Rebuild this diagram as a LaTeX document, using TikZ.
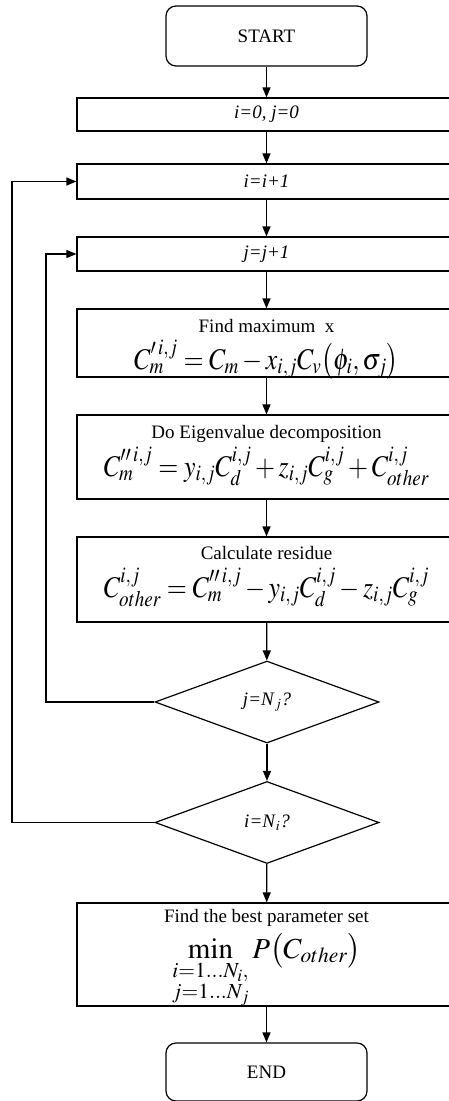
\documentclass[tikz,border=0pt]{standalone}
\usepackage{amsmath}
\usepackage{graphicx}
\usepackage{mathptmx}
\usepackage[no-math]{fontspec}
\setmainfont{Liberation Serif}
\usetikzlibrary{arrows.meta,shapes.geometric}
\newcommand{\sqz}[1]{\scalebox{0.86}[1]{#1}}
\begin{document}
\begin{tikzpicture}[x=1pt,y=-1pt,line width=1.2pt,
  txt/.style={font=\fontsize{19}{22}\selectfont},
  box/.style={draw,rectangle,minimum width=379pt,inner sep=0pt,txt},
  term/.style={draw,rectangle,rounded corners=10pt,minimum width=201pt,minimum height=60pt,inner sep=0pt,txt},
  dec/.style={draw,diamond,aspect=2.7,minimum width=224pt,minimum height=82pt,inner sep=0pt,txt},
  arr/.style={-{Triangle[length=10pt,width=8pt]}},
  lbl/.style={txt,inner sep=0pt,anchor=base},
  eq/.style={font=\fontsize{30}{34}\selectfont,inner sep=0pt,anchor=base}]
\useasboundingbox (0,0) rectangle (448,1101);
\node[term] (start) at (266.5,36) {START};
\node[box,minimum height=33pt] (b1) at (266.5,114.5) {\textit{i=0, j=0}};
\node[box,minimum height=35pt] (b2) at (266.5,181.5) {\textit{i=i+1}};
\node[box,minimum height=34pt] (b3) at (266.5,254) {\textit{j=j+1}};
\node[box,minimum height=68pt] (b4) at (266.5,343) {};
\node[box,minimum height=84pt] (b5) at (266.5,457) {};
\node[box,minimum height=85pt] (b6) at (266.5,579.5) {};
\node[dec] (d1) at (267,702) {\textit{j=N}$_j$\textit{?}};
\node[dec] (d2) at (267,822.5) {\textit{i=N}$_i$\textit{?}};
\node[box,minimum height=103pt] (b7) at (266.5,954.5) {};
\node[term,minimum height=58pt] (end) at (266.5,1072) {END};
% labels
\node[lbl] (t4) at (266.5,332) {Find maximum~ x};
\node[eq] (f4) at (266.5,369) {\sqz{$C'^{\,i,j}_m = C_m - x_{i,j}C_v\bigl(\phi_i,\sigma_j\bigr)$}};
\node[lbl] (t5) at (266.5,438) {Do Eigenvalue decomposition};
\node[eq] (f5) at (266.5,476) {\sqz{$C''^{\,i,j}_m = y_{i,j}C^{i,j}_d + z_{i,j}C^{i,j}_g + C^{i,j}_{other}$}};
\node[lbl] (t6) at (266.5,559) {Calculate residue};
\node[eq] (f6) at (266.5,597) {\sqz{$C^{i,j}_{other} = C''^{\,i,j}_m - y_{i,j}C^{i,j}_d - z_{i,j}C^{i,j}_g$}};
\node[lbl] (t7) at (266.5,922) {Find the best parameter set};
\node[eq,font=\fontsize{29}{33}\selectfont] (f7) at (266.5,958) {$\min\limits_{\substack{i=1\ldots N_i,\\ j=1\ldots N_j}} P\bigl(C_{other}\bigr)$};
% connectors
\draw[arr] (start) -- (b1);
\draw[arr] (b1) -- (b2);
\draw[arr] (b2) -- (b3);
\draw[arr] (b3) -- (b4);
\draw[arr] (b4) -- (b5);
\draw[arr] (b5) -- (b6);
\draw[arr] (b6) -- (d1);
\draw[arr] (d1) -- (d2);
\draw[arr] (d2) -- (b7);
\draw[arr] (b7) -- (end);
\coordinate (l1) at (46,702);
\coordinate (l2) at (12,822.5);
\draw[arr] (d1.west) -- (l1) |- (b3.west);
\draw[arr] (d2.west) -- (l2) |- (b2.west);
\end{tikzpicture}
\end{document}
